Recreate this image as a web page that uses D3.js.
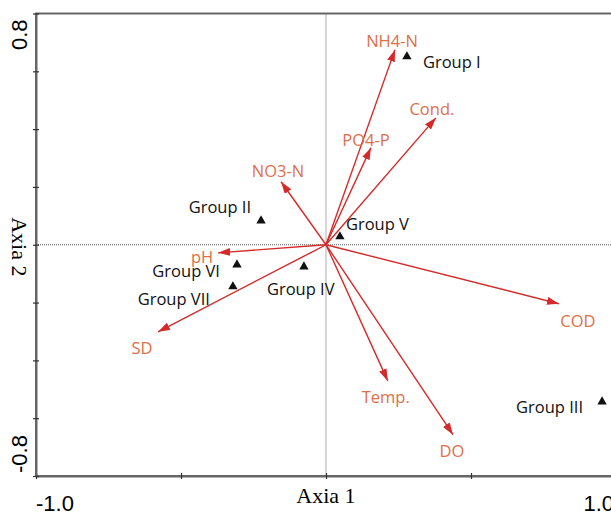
<!DOCTYPE html>
<html>
<head>
<meta charset="utf-8">
<script src="https://cdn.jsdelivr.net/npm/d3@7"></script>
<style>
  body { margin: 0; background: #fff; }
  svg { display: block; }
</style>
</head>
<body>
<div id="chart"></div>
<script>
// environmental variables (arrows)
var envNames = ["NH4-N", "Cond.", "PO4-P", "NO3-N", "pH", "SD", "COD", "Temp.", "DO"];
var envX = [0.238, 0.379, 0.155, -0.155, -0.372, -0.579, 0.803, 0.213, 0.438];
var envY = [0.675, 0.439, 0.336, 0.218, -0.028, -0.301, -0.204, -0.471, -0.657];

// sample groups (triangles)
var groupNames = ["Group I", "Group II", "Group III", "Group IV", "Group V", "Group VI", "Group VII"];
var groupX = [0.279, -0.224, 0.952, -0.076, 0.048, -0.307, -0.321];
var groupY = [0.651, 0.083, -0.543, -0.076, 0.028, -0.069, -0.145];

// axis ticks and labels
var xTicks = [-1.0, -0.5, 0, 0.5, 1.0];
var yTicks = [-0.8, -0.6, -0.4, -0.2, 0, 0.2, 0.4, 0.6, 0.8];
var xTickLabels = ["-1.0", "1.0"];
var yTickLabels = ["-0.8", "0.8"];

// label placement (pixel offsets from the mark)
var envLabelOffset = [[-3, -3], [-4, -3], [-5, -2], [-3, -5], [-16, 10], [-16, 22], [19, 23], [-2, 22], [-1, 22]];
var groupLabelOffset = [[16, 11, "start"], [-10, -8, "end"], [-19, 11, "end"], [-37, 28, "start"],
                        [6, -7, "start"], [-17, 12, "end"], [-23, 18, "end"]];

var W = 611, H = 512;
var margin = { top: 13.5, left: 36 };
var width = 580, height = 462.5;

var svg = d3.select("#chart").append("svg")
  .attr("width", W)
  .attr("height", H);

var g = svg.append("g")
  .attr("transform", "translate(" + margin.left + "," + margin.top + ")");

var x = d3.scaleLinear().domain([-1, 1]).range([0, width]);
var y = d3.scaleLinear().domain([-0.8, 0.8]).range([height, 0]);

var axisColor = "#666";
var sans = "'Open Sans', 'Liberation Sans', sans-serif";

// dotted zero lines
g.append("line")
  .attr("x1", x(0)).attr("x2", x(0))
  .attr("y1", 0).attr("y2", height)
  .attr("stroke", "#333").attr("stroke-width", 0.8)
  .attr("stroke-dasharray", "1,1");
g.append("line")
  .attr("x1", 0).attr("x2", width)
  .attr("y1", y(0)).attr("y2", y(0))
  .attr("stroke", "#333").attr("stroke-width", 0.8)
  .attr("stroke-dasharray", "1,1");

// frame: top and right edges
g.append("rect")
  .attr("x", 0).attr("y", 0)
  .attr("width", width).attr("height", height)
  .attr("fill", "none")
  .attr("stroke", axisColor)
  .attr("stroke-width", 2);

// bottom axis
var xAxis = g.append("g")
  .attr("transform", "translate(0," + height + ")")
  .call(d3.axisBottom(x).tickValues(xTicks).tickFormat("").tickSizeOuter(0));
xAxis.select(".domain").attr("stroke", axisColor).attr("stroke-width", 2);
xAxis.selectAll(".tick line").attr("y1", -3).attr("y2", 3)
  .attr("stroke", "#333").attr("stroke-width", 1.2);

// left axis
var yAxis = g.append("g")
  .call(d3.axisLeft(y).tickValues(yTicks).tickFormat("").tickSizeOuter(0));
yAxis.select(".domain").attr("stroke", axisColor).attr("stroke-width", 2);
yAxis.selectAll(".tick line").attr("x1", -3).attr("x2", 3)
  .attr("stroke", "#333").attr("stroke-width", 1.2);

// end tick labels
g.append("text")
  .attr("x", x(-1)).attr("y", height + 34.5)
  .attr("text-anchor", "start")
  .attr("font-family", "'Liberation Sans', Arial, sans-serif")
  .attr("font-size", 22)
  .text(xTickLabels[0]);
g.append("text")
  .attr("x", x(1) - 2).attr("y", height + 34.5)
  .attr("text-anchor", "end")
  .attr("font-family", "'Liberation Sans', Arial, sans-serif")
  .attr("font-size", 22)
  .text(xTickLabels[1]);

g.append("text")
  .attr("transform", "translate(-9," + (y(-0.8) - 3) + ") rotate(-90)")
  .attr("text-anchor", "start")
  .attr("font-family", "'Liberation Sans', Arial, sans-serif")
  .attr("font-size", 22)
  .text(yTickLabels[0]);
g.append("text")
  .attr("transform", "translate(-9," + (y(0.8) + 6) + ") rotate(-90)")
  .attr("text-anchor", "end")
  .attr("font-family", "'Liberation Sans', Arial, sans-serif")
  .attr("font-size", 22)
  .text(yTickLabels[1]);

// axis titles
g.append("text")
  .attr("x", x(0)).attr("y", height + 27)
  .attr("text-anchor", "middle")
  .attr("font-family", "'Liberation Serif', 'Times New Roman', serif")
  .attr("font-size", 22)
  .text("Axia 1");
g.append("text")
  .attr("transform", "translate(-24," + (y(0) + 2) + ") rotate(90)")
  .attr("text-anchor", "middle")
  .attr("font-family", "'Liberation Serif', 'Times New Roman', serif")
  .attr("font-size", 22)
  .text("Axia 2");

// arrow head
svg.append("defs").append("marker")
  .attr("id", "head")
  .attr("markerUnits", "userSpaceOnUse")
  .attr("viewBox", "0 0 12 8")
  .attr("markerWidth", 12).attr("markerHeight", 8)
  .attr("refX", 12).attr("refY", 4)
  .attr("orient", "auto")
  .append("path")
  .attr("d", "M0,0L12,4L0,8Z")
  .attr("fill", "#d42a2a");

var env = envNames.map(function (d, i) {
  return { name: d, x: envX[i], y: envY[i], off: envLabelOffset[i] };
});

g.selectAll(".arrow")
  .data(env)
  .enter().append("line")
  .attr("class", "arrow")
  .attr("x1", x(0)).attr("y1", y(0))
  .attr("x2", function (d) { return x(d.x); })
  .attr("y2", function (d) { return y(d.y); })
  .attr("stroke", "#d42a2a")
  .attr("stroke-width", 1.4)
  .attr("marker-end", "url(#head)");

g.selectAll(".envlabel")
  .data(env)
  .enter().append("text")
  .attr("class", "envlabel")
  .attr("x", function (d) { return x(d.x) + d.off[0]; })
  .attr("y", function (d) { return y(d.y) + d.off[1]; })
  .attr("text-anchor", "middle")
  .attr("font-family", sans)
  .attr("font-size", 16.5)
  .attr("fill", "#de6f48")
  .text(function (d) { return d.name; });

// groups
var groups = groupNames.map(function (d, i) {
  return { name: d, x: groupX[i], y: groupY[i], off: groupLabelOffset[i] };
});

g.selectAll(".tri")
  .data(groups)
  .enter().append("path")
  .attr("class", "tri")
  .attr("transform", function (d) { return "translate(" + x(d.x) + "," + y(d.y) + ")"; })
  .attr("d", d3.symbol().type(d3.symbolTriangle).size(38))
  .attr("fill", "#111");

g.selectAll(".grouplabel")
  .data(groups)
  .enter().append("text")
  .attr("class", "grouplabel")
  .attr("x", function (d) { return x(d.x) + d.off[0]; })
  .attr("y", function (d) { return y(d.y) + d.off[1]; })
  .attr("text-anchor", function (d) { return d.off[2]; })
  .attr("font-family", sans)
  .attr("font-size", 16.5)
  .attr("fill", "#111")
  .text(function (d) { return d.name; });
</script>
</body>
</html>
